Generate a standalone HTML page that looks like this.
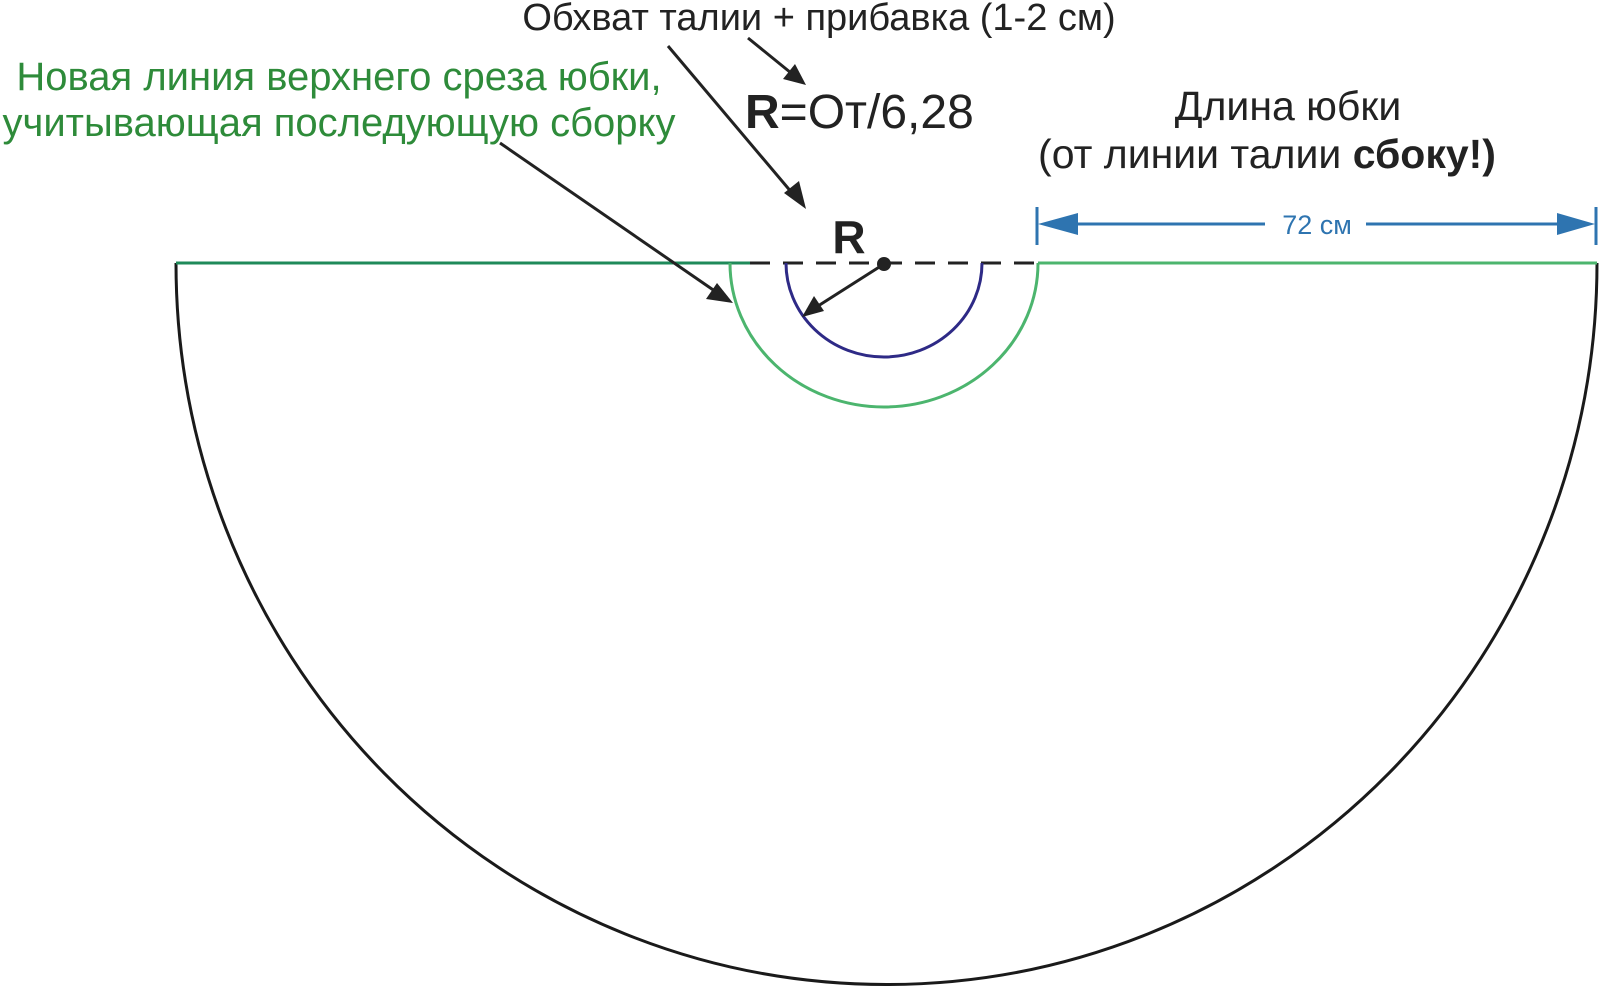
<!DOCTYPE html>
<html><head><meta charset="utf-8"><style>body{margin:0;background:#fff}svg{display:block}</style></head>
<body>
<svg width="1600" height="987" viewBox="0 0 1600 987" xmlns="http://www.w3.org/2000/svg" font-family="'Liberation Sans', sans-serif">
<path d="M176,263 A710,721 0 0 0 1597,263" fill="none" stroke="#1a1a1a" stroke-width="3"/>
<line x1="176" y1="263" x2="750" y2="263" stroke="#1f8a5a" stroke-width="3"/>
<line x1="750" y1="263" x2="1038" y2="263" stroke="#222" stroke-width="3" stroke-dasharray="20,13"/>
<line x1="1038" y1="263" x2="1597" y2="263" stroke="#4cb56e" stroke-width="3"/>
<path d="M730,263 A154,144 0 0 0 1038,263" fill="none" stroke="#4cb56e" stroke-width="3"/>
<path d="M786,263 A98,94 0 0 0 982,263" fill="none" stroke="#2e2a86" stroke-width="3"/>
<circle cx="884" cy="264" r="7" fill="#222"/>
<g stroke="#222" stroke-width="3" fill="none">
<line x1="884" y1="264" x2="807" y2="313"/>
<line x1="748" y1="38" x2="796" y2="77"/>
<line x1="668" y1="46" x2="798" y2="200"/>
<line x1="500" y1="143" x2="722" y2="296"/>
</g>
<g fill="#222">
<path d="M802,317 L814,296 L824,311Z"/>
<path d="M806,85 L783,79 L795,64Z"/>
<path d="M806,209 L784,193 L799,181Z"/>
<path d="M733,303 L706,299 L717,283Z"/>
</g>
<g stroke="#2e74b0" stroke-width="3">
<line x1="1037" y1="207" x2="1037" y2="245"/>
<line x1="1596" y1="207" x2="1596" y2="245"/>
<line x1="1060" y1="224" x2="1265" y2="224"/>
<line x1="1366" y1="224" x2="1570" y2="224"/>
</g>
<path d="M1038,224 L1078,213 L1078,235Z M1595,224 L1557,213 L1557,235Z" fill="#2e74b0"/>
<text x="1317" y="234" font-size="27" fill="#2e74b0" text-anchor="middle">72 см</text>
<text x="819" y="30" font-size="38" fill="#222" text-anchor="middle">Обхват талии + прибавка (1-2 см)</text>
<text x="339" y="90" font-size="40" fill="#2e8b3a" text-anchor="middle">Новая линия верхнего среза юбки,</text>
<text x="339" y="136" font-size="40" fill="#2e8b3a" text-anchor="middle">учитывающая последующую сборку</text>
<text x="745" y="128" font-size="48" fill="#222"><tspan font-weight="bold">R</tspan>=От/6,28</text>
<text x="1288" y="120" font-size="41" fill="#222" text-anchor="middle">Длина юбки</text>
<text x="1267" y="168" font-size="41" fill="#222" text-anchor="middle">(от линии талии <tspan font-weight="bold">сбоку!)</tspan></text>
<text x="849" y="253" font-size="46" font-weight="bold" fill="#222" text-anchor="middle">R</text>
</svg>
</body></html>
